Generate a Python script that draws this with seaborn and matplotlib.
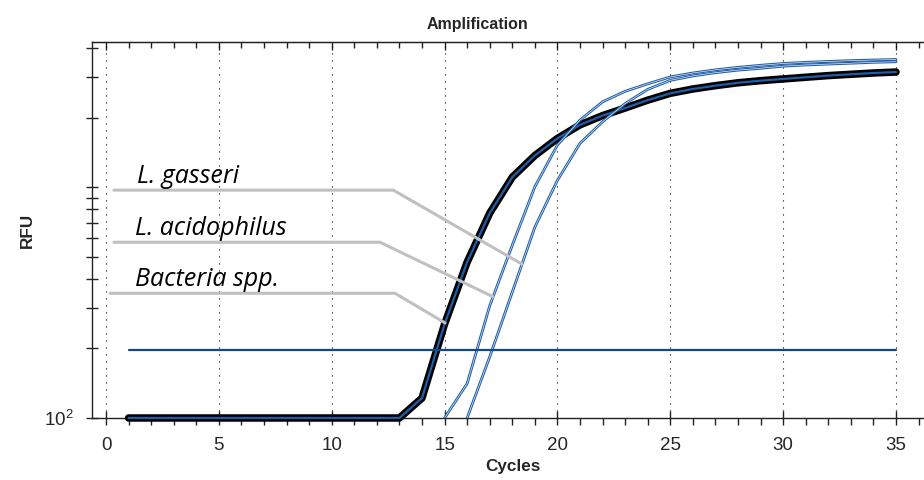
import numpy as np
import pandas as pd
import matplotlib
matplotlib.use("Agg")
import matplotlib.pyplot as plt
from matplotlib import ticker
from matplotlib import patheffects as pe
import seaborn as sns

# ---- data -------------------------------------------------------------
cycles_bacteria = list(range(1, 36))
rfu_bacteria = [100, 100, 100, 100, 100, 100, 100, 100, 100, 100, 100, 100, 100,
                122, 255, 473, 771, 1104, 1370, 1625, 1860, 2040, 2200, 2380,
                2547, 2660, 2750, 2830, 2890, 2940, 2990, 3040, 3080, 3120, 3150]

cycles_acidophilus = list(range(15, 36))
rfu_acidophilus = [100, 141, 306, 560, 1003, 1521, 1950, 2340, 2600, 2800, 3000,
                   3120, 3220, 3300, 3370, 3430, 3470, 3500, 3530, 3550, 3570]

cycles_gasseri = list(range(16, 36))
rfu_gasseri = [100, 184, 351, 671, 1070, 1546, 1919, 2300, 2650, 2900,
               3030, 3130, 3210, 3270, 3340, 3380, 3410, 3440, 3470, 3490]

threshold_cycles = [1, 35]
threshold_rfu = 197

x_ticks = [0, 5, 10, 15, 20, 25, 30, 35]

# callouts: label, leader height (RFU), leader start/bend cycle, cycle it points at
callout_labels = ["L. gasseri", "L. acidophilus", "Bacteria spp."]
callout_rfu = [970, 577, 347]
callout_start = [0.35, 0.35, 0.18]
callout_bend = [12.73, 12.14, 12.80]
callout_target = [18.43, 17.15, 15.02]
callout_text_x = [1.36, 1.28, 1.28]

# ---- style ------------------------------------------------------------
sns.set_style("white")
plt.rcParams["font.family"] = ["Liberation Sans", "DejaVu Sans"]
plt.rcParams["mathtext.fontset"] = "custom"
plt.rcParams["mathtext.rm"] = "Liberation Sans"
plt.rcParams["mathtext.it"] = "Liberation Sans:italic"
plt.rcParams["mathtext.bf"] = "Liberation Sans:bold"

BLUE = "#1f5ea6"
NAVY = "#0b4a8c"
GREY = "#c0c0c0"
FRAME = "#222222"

fig = plt.figure(figsize=(9.24, 4.80), dpi=100)
W, H = 924, 480
left_px, right_px, top_px, bottom_px = 91.7, 935.0, 42.0, 418.0
ax = fig.add_axes([left_px / W, 1 - bottom_px / H,
                   (right_px - left_px) / W, (bottom_px - top_px) / H])

df_b = pd.DataFrame({"Cycles": cycles_bacteria, "RFU": rfu_bacteria})
df_a = pd.DataFrame({"Cycles": cycles_acidophilus, "RFU": rfu_acidophilus})
df_g = pd.DataFrame({"Cycles": cycles_gasseri, "RFU": rfu_gasseri})

# bundle of Bacteria spp. wells: black halo with a blue core
sns.lineplot(data=df_b, x="Cycles", y="RFU", ax=ax, color="black", lw=5.4,
             clip_on=False, zorder=3)
sns.lineplot(data=df_b, x="Cycles", y="RFU", ax=ax, color=BLUE, lw=1.6,
             clip_on=False, zorder=4)

# species-specific wells, thin double-stroke traces
hollow = [pe.Stroke(linewidth=2.0, foreground=BLUE), pe.Normal()]
sns.lineplot(data=df_a, x="Cycles", y="RFU", ax=ax, color="#dfe8f3", lw=0.5,
             zorder=5, path_effects=hollow)
sns.lineplot(data=df_g, x="Cycles", y="RFU", ax=ax, color="#dfe8f3", lw=0.5,
             zorder=5, path_effects=hollow)

# threshold
ax.plot(threshold_cycles, [threshold_rfu] * 2, color=NAVY, lw=1.6, zorder=6)

# callouts with leader lines
series = {"L. gasseri": (cycles_gasseri, rfu_gasseri),
          "L. acidophilus": (cycles_acidophilus, rfu_acidophilus),
          "Bacteria spp.": (cycles_bacteria, rfu_bacteria)}
for lab, yv, xs, xb, xt, tx in zip(callout_labels, callout_rfu, callout_start,
                                   callout_bend, callout_target, callout_text_x):
    cx, cy = series[lab]
    yt = 10 ** np.interp(xt, cx, np.log10(cy))
    ax.plot([xs, xb, xt], [yv, yv, yt], color=GREY, lw=2.2, zorder=7,
            solid_joinstyle="miter")
    ax.annotate(lab, xy=(tx, yv), xytext=(0, 5.5), textcoords="offset points",
                ha="left", va="baseline", fontsize=18, style="italic",
                family=["Open Sans", "DejaVu Sans"], color="black", zorder=8)

# ---- axes -------------------------------------------------------------
ax.set_yscale("log")
ax.set_xlim(-(106 - left_px) / 22.571, (right_px - 106) / 22.571)
ax.set_ylim(100, 4250)

ax.set_xticks(x_ticks)
ax.xaxis.set_minor_locator(ticker.MultipleLocator(1))
ax.yaxis.set_major_locator(ticker.LogLocator(base=10))
ax.yaxis.set_minor_locator(ticker.LogLocator(base=10, subs=np.arange(2, 10)))
ax.yaxis.set_major_formatter(ticker.FuncFormatter(
    lambda v, p: r"$10^2$" if abs(v - 100) < 1e-6 else ""))
ax.yaxis.set_minor_formatter(ticker.NullFormatter())

tick_font = ["Liberation Sans Narrow", "Liberation Sans"]
ax.tick_params(axis="x", which="major", direction="inout", length=10, width=1,
               pad=9.0, labelsize=13.5, color=FRAME, bottom=True, top=False)
ax.tick_params(axis="x", which="minor", direction="out", length=5, width=1,
               color=FRAME, bottom=True, top=False)
ax.tick_params(axis="y", which="both", direction="inout", length=9, width=1,
               color=FRAME, pad=8.5, labelsize=13.5, left=True, right=False)
for lbl in ax.get_xticklabels() + ax.get_yticklabels():
    lbl.set_family(tick_font)

# top frame ticks point inward
top = ax.secondary_xaxis("top")
top.set_xticks(x_ticks)
top.xaxis.set_minor_locator(ticker.MultipleLocator(1))
top.tick_params(which="major", direction="in", length=6, width=1,
                color=FRAME, top=True, labeltop=False)
top.tick_params(which="minor", direction="in", length=4, width=1,
                color=FRAME, top=True)
top.spines["top"].set_color(FRAME)

ax.grid(axis="x", which="major", color="black", lw=0.8,
        linestyle=(0, (1, 5.3)))
ax.grid(axis="y", visible=False)

for s in ["left", "bottom", "top"]:
    ax.spines[s].set_color(FRAME)
    ax.spines[s].set_linewidth(1.0)
ax.spines["right"].set_visible(False)

ax.set_xlabel("Cycles", fontsize=12.3, fontweight="bold")
ax.xaxis.set_label_coords(0.5, (bottom_px - 459) / (bottom_px - top_px))
ax.set_ylabel("RFU", fontsize=12.3, fontweight="bold", va="center")
ax.yaxis.set_label_coords((27 - left_px) / (right_px - left_px), 0.5)

fig.text(477.5 / W, 1 - 29.3 / H, "Amplification", ha="center",
         va="baseline", fontsize=11.5, fontweight="bold")

fig.savefig("out.png", dpi=100)
